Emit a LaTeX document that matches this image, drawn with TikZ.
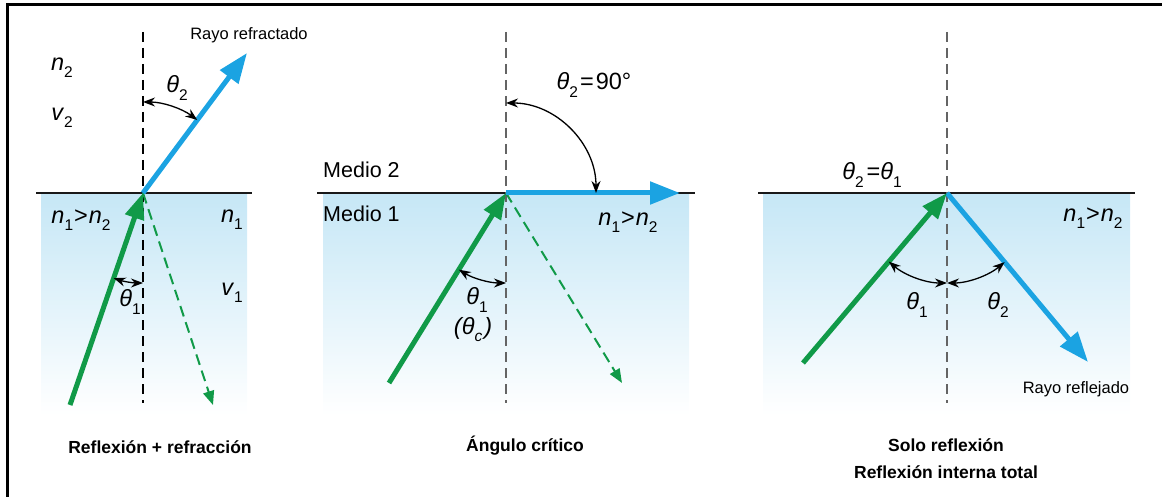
\documentclass[tikz,border=0pt]{standalone}
\usepackage{fontspec}
\setmainfont{Liberation Sans}
\usetikzlibrary{arrows.meta}
\definecolor{rgreen}{RGB}{16,154,72}
\definecolor{rblue}{RGB}{27,163,226}
\definecolor{wfill}{RGB}{198,231,246}
\definecolor{ngray}{RGB}{100,100,100}
\newcommand{\lsub}[1]{\raisebox{-0.3em}{\fontsize{15.5}{15.5}\selectfont #1}}
\newcommand{\nn}[1]{\textit{n}\lsub{#1}}
\newcommand{\thet}[1]{\textit{θ}\lsub{#1}}
\tikzset{
  iface/.style={line width=2.5pt, black!90},
  normline/.style={dash pattern=on 10pt off 6pt, line width=1.4pt},
  inray/.style={line width=5pt, rgreen, -{Triangle[length=26pt,width=19pt]}},
  outray/.style={line width=5pt, rblue, -{Triangle[length=30pt,width=22pt]}},
  dray/.style={line width=2pt, rgreen, dash pattern=on 11pt off 6pt, -{Triangle[length=14pt,width=11pt]}},
  ang/.style={line width=1.3pt, {Stealth[length=12pt,width=9pt]}-{Stealth[length=12pt,width=9pt]}},
  lbl/.style={font=\fontsize{23.5}{24}\selectfont, inner sep=0pt},
  capt/.style={font=\bfseries\fontsize{17.5}{27}\selectfont, align=center, inner sep=0pt},
  medio/.style={font=\fontsize{21.5}{22}\selectfont, inner sep=0pt},
  smalltxt/.style={font=\fontsize{16.5}{17}\selectfont, inner sep=0pt},
}
\begin{document}
\begin{tikzpicture}[x=1pt,y=1pt]
\useasboundingbox (0,0) rectangle (1162,-497);
% frame
\draw[line width=3pt] (7,-497) -- (7,-5) -- (1162,-5);
% water shading
\shade[top color=wfill, bottom color=white] (41,-194) rectangle (247,-415);
\shade[top color=wfill, bottom color=white] (323,-194) rectangle (689,-415);
\shade[top color=wfill, bottom color=white] (763,-194) rectangle (1130,-415);
% key points
\coordinate (O1) at (143,-193);
\coordinate (O2) at (506,-193);
\coordinate (O3) at (947,-193);
% interfaces
\coordinate (L1) at (36,-193); \coordinate (R1) at (252,-193);
\coordinate (L2) at (317,-193); \coordinate (R2) at (695,-193);
\coordinate (L3) at (758,-193); \coordinate (R3) at (1135,-193);
\draw[iface] (L1) -- (R1);
\draw[iface] (L2) -- (R2);
\draw[iface] (L3) -- (R3);
% normals
\coordinate (N1t) at (143,-32); \coordinate (N1b) at (143,-403);
\coordinate (N2t) at (506,-32); \coordinate (N2b) at (506,-403);
\coordinate (N3t) at (947,-32); \coordinate (N3b) at (947,-403);
\draw[normline, black] (N1t) -- (N1b);
\draw[normline, ngray] (N2t) -- (N2b);
\draw[normline, ngray] (N3t) -- (N3b);
% panel 1 rays
\coordinate (A1) at (70,-405);
\coordinate (B1) at (247,-53);
\coordinate (C1) at (213,-405);
\draw[dray] (O1) -- (C1);
\draw[outray] (O1) -- (B1);
\draw[inray] (A1) -- (O1);
% panel 2 rays
\coordinate (A2) at (389,-383);
\coordinate (B2) at (680,-193);
\coordinate (C2) at (622,-383);
\draw[dray] (O2) -- (C2);
\draw[outray] (O2) -- (B2);
\draw[inray] (A2) -- (O2);
% panel 3 rays
\coordinate (A3) at (803,-363);
\coordinate (B3) at (1088,-362);
\draw[outray] (O3) -- (B3);
\draw[inray] (A3) -- (O3);
% angle arcs
\draw[ang] ([shift={(90:91)}]O1) arc[start angle=90, end angle=53.4, radius=91];
\draw[ang] ([shift={(251:90)}]O1) arc[start angle=251, end angle=270, radius=90];
\draw[ang] ([shift={(90:90)}]O2) arc[start angle=90, end angle=0, radius=90];
\draw[ang] ([shift={(238.4:90)}]O2) arc[start angle=238.4, end angle=270, radius=90];
\draw[ang] ([shift={(229.7:90)}]O3) arc[start angle=229.7, end angle=270, radius=90];
\draw[ang] ([shift={(309.8:90)}]O3) arc[start angle=309.8, end angle=270, radius=90];
% panel 1 labels
\node[smalltxt] (rr) at (249,-35) {Rayo refractado};
\node[lbl] (t2a) at (177,-88) {\thet{2}};
\node[lbl] (n2a) at (62,-68) {\nn{2}};
\node[lbl] (v2a) at (62,-118) {\textit{v}\lsub{2}};
\node[lbl] (nna) at (81,-220) {\nn{1}\hspace{1pt}>\hspace{1pt}\nn{2}};
\node[lbl] (n1a) at (232,-220) {\nn{1}};
\node[lbl] (v1a) at (232,-293) {\textit{v}\lsub{1}};
\node[lbl] (t1a) at (130,-302) {\thet{1}};
\node[capt] (cap1) at (160,-447) {Reflexión + refracción};
% panel 2 labels
\node[lbl] (t2b) at (594,-85) {\thet{2}\hspace{2pt}=\hspace{2pt}90°};
\node[medio, anchor=base west] (m2) at (323,-178) {Medio 2};
\node[medio, anchor=base west] (m1) at (323,-222) {Medio 1};
\node[lbl] (nnb) at (628,-222) {\nn{1}\hspace{1pt}>\hspace{1pt}\nn{2}};
\node[lbl] (t1b) at (477,-300) {\thet{1}};
\node[lbl] (tcb) at (473,-330) {\textit{(θ}\lsub{\textit{c}}\hspace{2pt}\textit{)}};
\node[capt] (cap2) at (525,-446) {Ángulo crítico};
% panel 3 labels
\node[lbl] (t21) at (872,-175) {\thet{2}\hspace{3pt}=\thet{1}};
\node[lbl] (nnc) at (1093,-218) {\nn{1}\hspace{1pt}>\hspace{1pt}\nn{2}};
\node[lbl] (t1c) at (917,-305) {\thet{1}};
\node[lbl] (t2c) at (998,-305) {\thet{2}};
\node[smalltxt] (rf) at (1076,-389) {Rayo reflejado};
\node[capt] (cap3) at (946,-459) {Solo reflexión\\Reflexión interna total};
\end{tikzpicture}
\end{document}
